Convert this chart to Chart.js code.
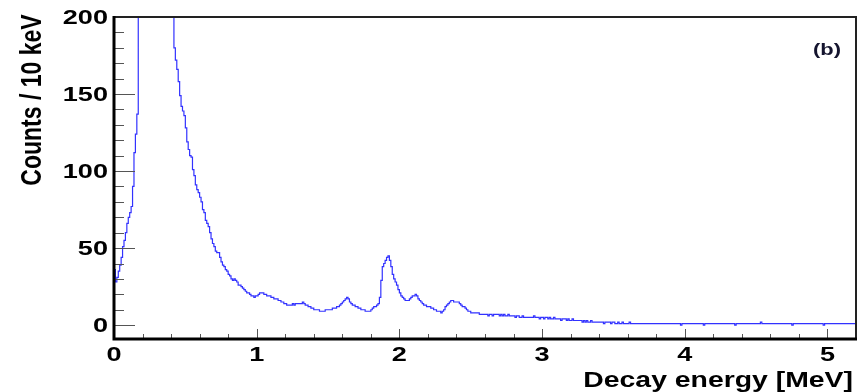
<!DOCTYPE html>
<html>
<head>
<meta charset="utf-8">
<script src="https://cdn.jsdelivr.net/npm/chart.js@4.4.1/dist/chart.umd.min.js"></script>
<style>
    html, body { margin: 0; padding: 0; background: #fff; }
    #wrap { width: 861px; height: 392px; position: relative; }
</style>
</head>
<body>
<div id="wrap"><canvas id="spectrum"></canvas></div>
<script>
// Decay energy spectrum, 10 keV bins starting at 0 MeV
const binWidth = 0.01;
const counts = [
    38, 36, 28, 31, 35, 39, 44, 51, 55, 60,
    66, 70, 73, 77, 90, 112, 124, 137, 260, 340,
    480, 540, 590, 620, 640, 650, 645, 630, 610, 585,
    555, 520, 485, 450, 415, 380, 345, 315, 290, 265,
    245, 225, 208, 180, 172, 166, 158, 149, 142, 139,
    136, 128, 119, 114, 110, 109, 101, 97, 91, 88,
    86, 83, 80, 75, 73, 68, 66, 64, 60, 56,
    53, 51, 48, 47, 47, 44, 41, 39, 38, 36,
    35, 33, 32, 30, 29, 30, 29, 28, 26, 26,
    25, 24, 23, 22, 21, 21, 20, 19, 19, 18,
    19, 19, 20, 21, 21, 21, 20, 20, 19, 19,
    19, 18, 18, 17, 17, 17, 16, 16, 15, 15,
    14, 14, 13, 13, 13, 13, 14, 13, 14, 14,
    14, 14, 14, 15, 14, 13, 13, 12, 12, 11,
    11, 10, 10, 10, 10, 9, 9, 9, 9, 10,
    10, 10, 10, 10, 11, 11, 11, 12, 12, 13,
    14, 15, 16, 17, 18, 17, 15, 14, 13, 13,
    12, 12, 11, 11, 10, 10, 10, 9, 9, 9,
    9, 10, 11, 12, 12, 13, 14, 18, 29, 38,
    40, 42, 44, 45, 42, 38, 33, 30, 28, 26,
    23, 21, 19, 18, 17, 16, 16, 16, 17, 18,
    19, 19, 20, 19, 17, 16, 15, 14, 13, 13,
    12, 12, 12, 11, 11, 10, 10, 9, 9, 9,
    8, 9, 10, 12, 13, 14, 15, 16, 16, 15,
    15, 15, 15, 14, 13, 12, 12, 11, 10, 9,
    9, 8, 8, 8, 8, 8, 8, 7, 7, 7,
    7, 7, 7, 6, 7, 7, 6, 7, 7, 7,
    7, 6, 7, 6, 7, 6, 6, 7, 6, 6,
    6, 6, 5, 6, 6, 5, 5, 6, 5, 5,
    5, 5, 5, 5, 5, 6, 5, 5, 5, 4,
    5, 5, 4, 5, 5, 4, 5, 4, 4, 5,
    4, 4, 4, 4, 3, 4, 4, 4, 3, 4,
    3, 3, 4, 3, 3, 3, 3, 3, 3, 2,
    3, 2, 3, 2, 2, 3, 2, 2, 2, 2,
    2, 2, 2, 2, 1, 2, 2, 2, 2, 1,
    2, 2, 1, 1, 2, 1, 1, 2, 1, 1,
    1, 1, 2, 1, 1, 1, 1, 1, 1, 1,
    1, 1, 1, 1, 1, 1, 1, 1, 1, 1,
    1, 1, 1, 1, 1, 1, 1, 1, 1, 1,
    1, 1, 1, 1, 1, 1, 1, 1, 0, 1,
    1, 1, 1, 1, 1, 1, 1, 1, 1, 1,
    1, 1, 1, 1, 0, 1, 1, 1, 1, 1,
    1, 1, 1, 1, 1, 1, 1, 1, 1, 1,
    1, 1, 1, 1, 1, 1, 0, 1, 1, 1,
    1, 1, 1, 1, 1, 1, 1, 1, 1, 1,
    1, 1, 1, 1, 2, 1, 1, 1, 1, 1,
    1, 1, 1, 1, 1, 1, 1, 1, 1, 1,
    1, 1, 1, 1, 1, 1, 0, 1, 1, 1,
    1, 1, 1, 1, 1, 1, 1, 1, 1, 1,
    1, 1, 1, 1, 1, 1, 1, 1, 0, 1,
    1, 1, 1, 1, 1, 1, 1, 1, 1, 1,
    1, 1, 1, 1, 1, 1, 1, 1, 1, 1
];

const xMin = 0, xMax = 5.2;
const yMin = -9, yMax = 200;
const xMajorTicks = [0, 1, 2, 3, 4, 5];
const yMajorTicks = [0, 50, 100, 150, 200];
const xTitle = 'Decay energy [MeV]';
const yTitle = 'Counts / 10 keV';
const panelLabel = '(b)';

// the figure is wider than tall, text is drawn a bit stretched sideways
const stretch = 1.29;
const fontFamily = '"Liberation Sans", Arial, sans-serif';

// histogram outline: starts at the frame bottom, bins above the frame sit on its top edge
const points = [{ x: 0, y: yMin }];
counts.forEach((c, i) => points.push({ x: i * binWidth, y: Math.min(c, yMax) }));
points.push({ x: counts.length * binWidth, y: Math.min(counts[counts.length - 1], yMax) });

function stretchedText(ctx, text, x, y, align, size) {
    ctx.save();
    ctx.translate(x, y);
    ctx.scale(stretch, 1);
    ctx.font = `bold ${size}px ${fontFamily}`;
    ctx.textAlign = align;
    ctx.textBaseline = 'middle';
    ctx.fillStyle = '#000';
    ctx.fillText(text, 0, 0);
    ctx.restore();
}

const frameAndAxes = {
    id: 'frameAndAxes',
    afterDatasetsDraw(chart) {
        const ctx = chart.ctx;
        const area = chart.chartArea;
        const xs = chart.scales.x;
        const ys = chart.scales.y;

        // y ticks, inside the frame
        ctx.save();
        ctx.strokeStyle = '#555';
        ctx.lineWidth = 1;
        for (let v = 0; v <= yMax; v += 10) {
            const py = Math.round(ys.getPixelForValue(v)) + 0.5;
            const len = v % 50 === 0 ? 21 : 10;
            ctx.beginPath();
            ctx.moveTo(area.left, py);
            ctx.lineTo(area.left + len, py);
            ctx.stroke();
        }
        // x ticks, pointing up from the bottom axis
        for (let k = 0; k <= Math.round(xMax / 0.2); k++) {
            const v = k * 0.2;
            const px = Math.round(xs.getPixelForValue(v)) + 0.5;
            const len = k % 5 === 0 ? 10 : 5;
            ctx.beginPath();
            ctx.moveTo(px, area.bottom);
            ctx.lineTo(px, area.bottom - len);
            ctx.stroke();
        }

        // frame: thin top/right, heavy axes on left/bottom
        ctx.strokeStyle = '#222';
        ctx.lineWidth = 2;
        ctx.beginPath();
        ctx.moveTo(area.left, area.top);
        ctx.lineTo(area.right, area.top);
        ctx.lineTo(area.right, area.bottom);
        ctx.stroke();
        ctx.strokeStyle = '#000';
        ctx.lineWidth = 3;
        ctx.beginPath();
        ctx.moveTo(area.left, area.top - 1);
        ctx.lineTo(area.left, area.bottom);
        ctx.lineTo(area.right + 1, area.bottom);
        ctx.stroke();
        ctx.restore();

        // tick labels
        yMajorTicks.forEach(v => {
            stretchedText(ctx, String(v), area.left - 6, ys.getPixelForValue(v) + 1, 'right', 21);
        });
        xMajorTicks.forEach(v => {
            stretchedText(ctx, String(v), xs.getPixelForValue(v), area.bottom + 16, 'center', 21);
        });

        // axis titles
        stretchedText(ctx, xTitle, area.right - 3, area.bottom + 42, 'right', 22);
        ctx.save();
        ctx.translate(33, 100);
        ctx.rotate(-Math.PI / 2);
        ctx.scale(1, stretch);
        ctx.font = `bold 23px ${fontFamily}`;
        ctx.textAlign = 'center';
        ctx.textBaseline = 'middle';
        ctx.fillStyle = '#000';
        ctx.fillText(yTitle, 0, 0);
        ctx.restore();

        // panel label
        ctx.save();
        ctx.translate(827, 50);
        ctx.scale(stretch, 1);
        ctx.font = `bold 17px ${fontFamily}`;
        ctx.textAlign = 'center';
        ctx.textBaseline = 'middle';
        ctx.fillStyle = '#14142e';
        ctx.fillText(panelLabel, 0, 0);
        ctx.restore();
    }
};

new Chart(document.getElementById('spectrum'), {
    type: 'line',
    data: {
        datasets: [{
            data: points,
            stepped: 'after',
            borderColor: 'rgb(50, 50, 255)',
            borderWidth: 1.2,
            pointRadius: 0,
            fill: false
        }]
    },
    options: {
        responsive: true,
        maintainAspectRatio: false,
        animation: false,
        events: [],
        layout: {
            padding: { left: 114, right: 5, top: 17, bottom: 53 }
        },
        plugins: {
            legend: { display: false },
            title: { display: false },
            tooltip: { enabled: false }
        },
        scales: {
            x: { type: 'linear', min: xMin, max: xMax, display: false },
            y: { type: 'linear', min: yMin, max: yMax, display: false }
        }
    },
    plugins: [frameAndAxes]
});
</script>
</body>
</html>
